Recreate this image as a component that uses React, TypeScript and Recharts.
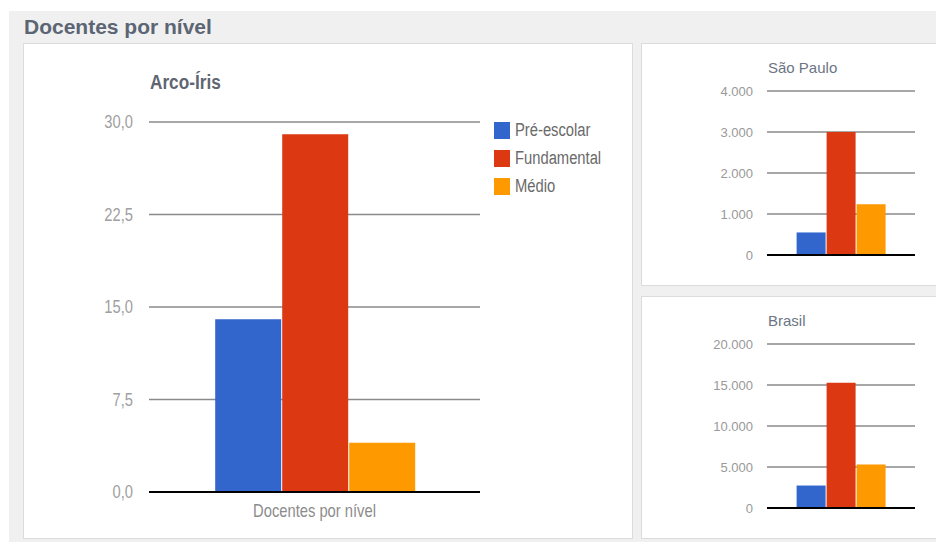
import { BarChart, Bar, XAxis, YAxis, CartesianGrid, Legend } from "recharts";

const SERIES = ["Pré-escolar", "Fundamental", "Médio"];
const SERIES_KEYS = ["pre", "fund", "medio"];
const COLORS = ["#3366cc", "#dc3912", "#ff9900"];

const CATEGORY = "Docentes por nível";

const ARCO_IRIS = [14, 29, 4];
const SAO_PAULO = [550, 3000, 1240];
const BRASIL = [2740, 15270, 5290];

const ARCO_TICKS = [0, 7.5, 15, 22.5, 30];
const SP_TICKS = [0, 1000, 2000, 3000, 4000];
const BR_TICKS = [0, 5000, 10000, 15000, 20000];

const SANS = '"Liberation Sans", Arial, sans-serif';
// no narrow face installed, so squeeze the regular one
const SQUEEZE = 0.82;

function toRow(values: number[]) {
  const row: Record<string, string | number> = { name: CATEGORY };
  SERIES_KEYS.forEach((k, i) => (row[k] = values[i]));
  return [row];
}

const fmtDecimal = (v: number) => v.toFixed(1).replace(".", ",");
const fmtThousands = (v: number) => String(v).replace(/\B(?=(\d{3})+(?!\d))/g, ".");

const panel: React.CSSProperties = {
  position: "absolute",
  background: "#fff",
  border: "1px solid #dcdcdc",
  boxSizing: "border-box",
};

function NarrowYTick(props: any) {
  const { x, y, payload } = props;
  return (
    <text
      transform={`translate(${x},${y}) scale(${SQUEEZE},1)`}
      textAnchor="end"
      dy="0.355em"
      fill="#a0a0a0"
      fontSize={18}
      fontFamily={SANS}
    >
      {fmtDecimal(payload.value)}
    </text>
  );
}

function NarrowXTick(props: any) {
  const { x, y, payload } = props;
  return (
    <text
      transform={`translate(${x},${y}) scale(${SQUEEZE},1)`}
      textAnchor="middle"
      dy="0.71em"
      fill="#8c8c8c"
      fontSize={18}
      fontFamily={SANS}
    >
      {payload.value}
    </text>
  );
}

function LegendBox() {
  return (
    <div>
      {SERIES.map((s, i) => (
        <div key={s} style={{ display: "flex", alignItems: "center", height: 28 }}>
          <span style={{ width: 16, height: 17, background: COLORS[i], display: "inline-block" }} />
          <span
            style={{
              marginLeft: 5,
              fontFamily: SANS,
              fontSize: 18,
              color: "#6a6a6a",
              display: "inline-block",
              transform: `scaleX(${SQUEEZE})`,
              transformOrigin: "left center",
              whiteSpace: "nowrap",
            }}
          >
            {s}
          </span>
        </div>
      ))}
    </div>
  );
}

function SmallChart({ title, values, ticks }: { title: string; values: number[]; ticks: number[] }) {
  return (
    <>
      <div
        style={{
          position: "absolute",
          left: 126,
          top: 15,
          fontFamily: SANS,
          fontSize: 15,
          color: "#6c7585",
          lineHeight: "18px",
        }}
      >
        {title}
      </div>
      <div style={{ position: "absolute", left: 0, top: 0 }}>
        <BarChart
          width={293}
          height={241}
          data={toRow(values)}
          margin={{ top: 47, right: 20, left: 0, bottom: 0 }}
          barCategoryGap="20%"
          barGap={1}
        >
          <CartesianGrid vertical={false} stroke="#8a8a8a" strokeWidth={1.5} />
          <XAxis dataKey="name" height={30} tick={false} tickLine={false} axisLine={{ stroke: "#000", strokeWidth: 2 }} />
          <YAxis
            width={125}
            domain={[ticks[0], ticks[ticks.length - 1]]}
            ticks={ticks}
            interval={0}
            tickFormatter={fmtThousands}
            axisLine={false}
            tickLine={false}
            tickMargin={8}
            tick={{ fill: "#999", fontSize: 13, fontFamily: SANS }}
          />
          {SERIES_KEYS.map((k, i) => (
            <Bar key={k} dataKey={k} name={SERIES[i]} fill={COLORS[i]} isAnimationActive={false} />
          ))}
        </BarChart>
      </div>
    </>
  );
}

export default function App() {
  return (
    <div style={{ position: "absolute", left: 0, top: 0, width: 936, height: 542, background: "#fff", overflow: "hidden" }}>
      <div style={{ position: "absolute", left: 9, top: 11, right: 0, bottom: 0, background: "#f0f0f0" }} />
      <div
        style={{
          position: "absolute",
          left: 24,
          top: 15,
          fontFamily: SANS,
          fontWeight: "bold",
          fontSize: 21,
          color: "#5b6573",
          lineHeight: "24px",
        }}
      >
        Docentes por nível
      </div>

      <div style={{ ...panel, left: 23, top: 43, width: 610, height: 496 }}>
        <div
          style={{
            position: "absolute",
            left: 126,
            top: 26,
            fontFamily: SANS,
            fontWeight: "bold",
            fontSize: 20,
            color: "#5f6672",
            lineHeight: "24px",
            transform: "scaleX(0.86)",
            transformOrigin: "left center",
            whiteSpace: "nowrap",
          }}
        >
          Arco-Íris
        </div>
        <div style={{ position: "absolute", left: 0, top: 0 }}>
          <BarChart
            width={608}
            height={494}
            data={toRow(ARCO_IRIS)}
            margin={{ top: 78, right: 152, left: 0, bottom: 0 }}
            barCategoryGap="20%"
            barGap={1}
          >
            <CartesianGrid vertical={false} stroke="#8a8a8a" strokeWidth={1.5} />
            <XAxis
              dataKey="name"
              height={46}
              tickLine={false}
              tickMargin={6}
              axisLine={{ stroke: "#000", strokeWidth: 2 }}
              tick={<NarrowXTick />}
            />
            <YAxis
              width={125}
              domain={[0, 30]}
              ticks={ARCO_TICKS}
              interval={0}
              axisLine={false}
              tickLine={false}
              tickMargin={10}
              tick={<NarrowYTick />}
            />
            <Legend
              layout="vertical"
              align="center"
              verticalAlign="middle"
              wrapperStyle={{ left: 470, top: 72, width: 130 }}
              content={() => <LegendBox />}
            />
            {SERIES_KEYS.map((k, i) => (
              <Bar key={k} dataKey={k} name={SERIES[i]} fill={COLORS[i]} isAnimationActive={false} />
            ))}
          </BarChart>
        </div>
      </div>

      <div style={{ ...panel, left: 641, top: 43, width: 297, height: 243 }}>
        <SmallChart title="São Paulo" values={SAO_PAULO} ticks={SP_TICKS} />
      </div>
      <div style={{ ...panel, left: 641, top: 296, width: 297, height: 243 }}>
        <SmallChart title="Brasil" values={BRASIL} ticks={BR_TICKS} />
      </div>
    </div>
  );
}
